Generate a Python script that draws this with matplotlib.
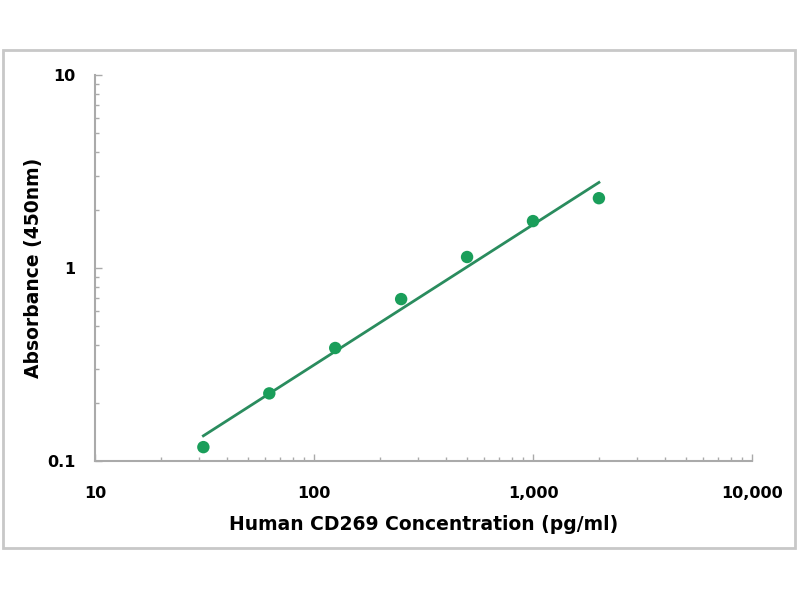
import numpy as np
import matplotlib
matplotlib.use("Agg")
import matplotlib.pyplot as plt
from matplotlib.patches import Rectangle
from matplotlib.ticker import FixedLocator, FixedFormatter, LogLocator, NullFormatter

conc = [31.25, 62.5, 125, 250, 500, 1000, 2000]
absorb = [0.118, 0.224, 0.385, 0.69, 1.14, 1.75, 2.30]
x_ticks = [10, 100, 1000, 10000]
x_labels = ["10", "100", "1,000", "10,000"]
y_ticks = [0.1, 1, 10]
y_labels = ["0.1", "1", "10"]

fig = plt.figure(figsize=(8, 6), dpi=100)
fig.add_artist(Rectangle((3/800, 1-548/600), 792/800, 498/600, transform=fig.transFigure,
                         fill=False, edgecolor="#c8c8c8", linewidth=2))
ax = fig.add_axes([95/800, 1-461/600, 657/800, 386/600])
ax.set_xscale("log")
ax.set_yscale("log")
ax.set_xlim(10, 10000)
ax.set_ylim(0.1, 10)

# power-law fit line
lx, ly = np.log10(conc), np.log10(absorb)
b, a = np.polyfit(lx, ly, 1)
xf = np.logspace(np.log10(conc[0]), np.log10(conc[-1]), 50)
ax.plot(xf, 10**(a + b*np.log10(xf)), color="#2a8c5e", lw=2, zorder=2)
ax.scatter(conc, absorb, s=80, color="#1a9e5a", zorder=3, edgecolors="none")

for s in ["top", "right"]:
    ax.spines[s].set_visible(False)
for s in ["left", "bottom"]:
    ax.spines[s].set_color("#aaaaaa")
    ax.spines[s].set_linewidth(1.5)

ax.xaxis.set_major_locator(FixedLocator(x_ticks))
ax.xaxis.set_major_formatter(FixedFormatter(x_labels))
ax.yaxis.set_major_locator(FixedLocator(y_ticks))
ax.yaxis.set_major_formatter(FixedFormatter(y_labels))
ax.xaxis.set_minor_locator(LogLocator(base=10, subs=np.arange(2, 10)))
ax.yaxis.set_minor_locator(LogLocator(base=10, subs=np.arange(2, 10)))
ax.xaxis.set_minor_formatter(NullFormatter())
ax.yaxis.set_minor_formatter(NullFormatter())

ax.tick_params(axis="both", which="both", direction="in", color="#aaaaaa")
ax.tick_params(axis="both", which="major", length=5, width=1)
ax.tick_params(axis="both", which="minor", length=3, width=1)
ax.tick_params(axis="x", which="major", pad=18, labelsize=11.5)
ax.tick_params(axis="y", which="major", pad=14, labelsize=11.5)
for lab in ax.get_xticklabels() + ax.get_yticklabels():
    lab.set_fontweight("bold")

ax.set_xlabel("Human CD269 Concentration (pg/ml)", fontsize=13.5, fontweight="bold", labelpad=10)
ax.set_ylabel("Absorbance (450nm)", fontsize=13.5, fontweight="bold", labelpad=3)

fig.savefig("out.png", dpi=100)
